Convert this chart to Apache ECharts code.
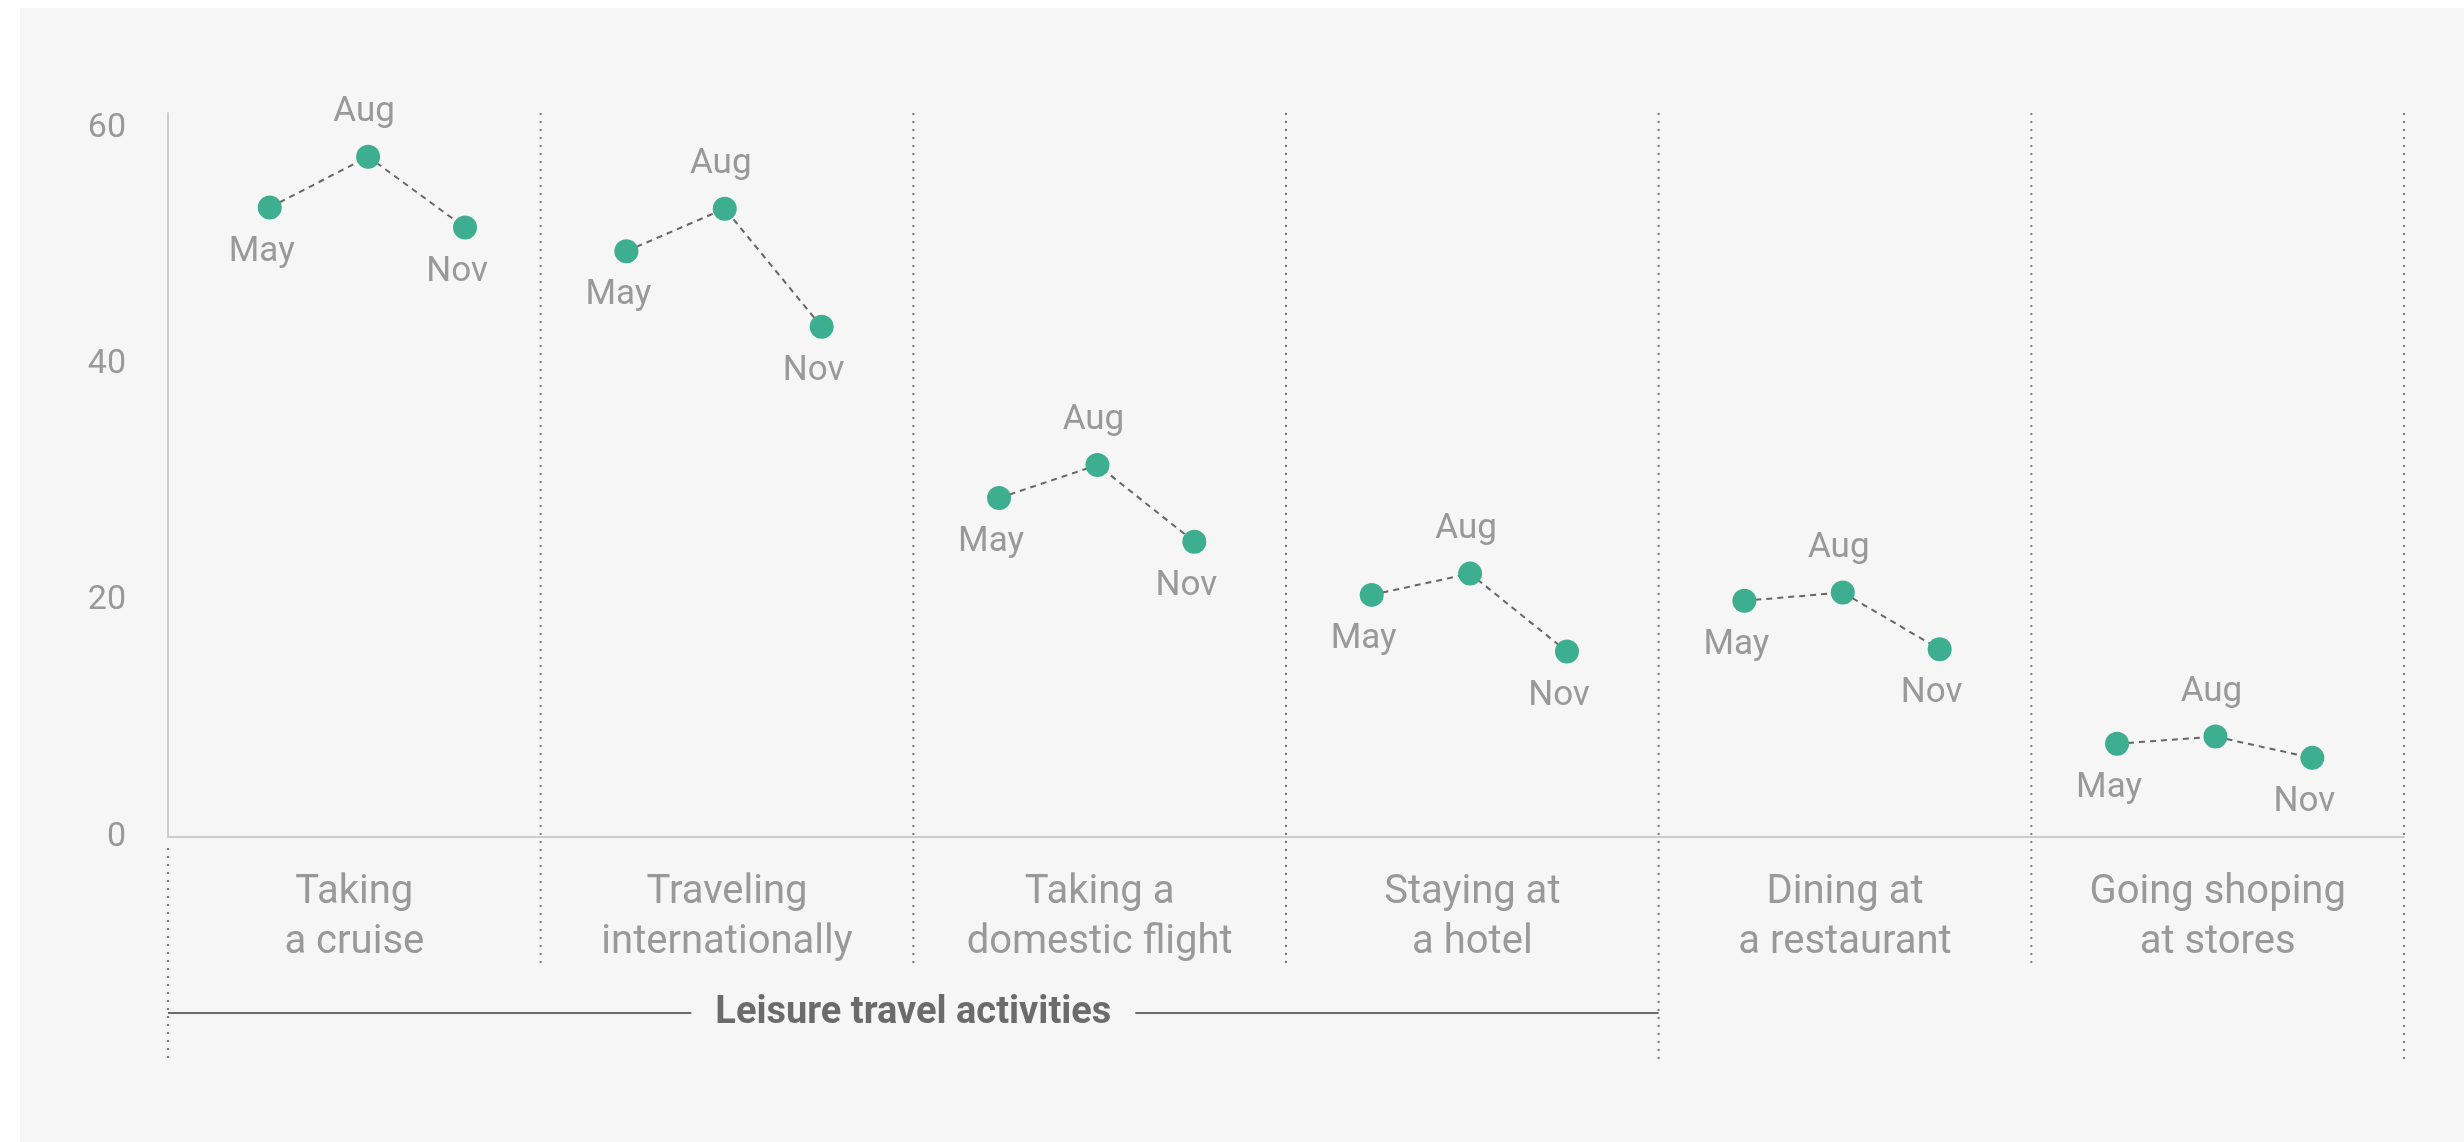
<!DOCTYPE html>
<html>
<head>
<meta charset="utf-8">
<script src="https://cdn.jsdelivr.net/npm/echarts@6/dist/echarts.min.js"></script>
<style>
html, body { margin: 0; padding: 0; background: #fff; }
#chart { position: absolute; left: 20px; top: 8px; width: 2444px; height: 1134px; background: #f6f6f6; }
</style>
</head>
<body>
<div id="chart"></div>
<script>
// activities (x categories) and survey months
var activities = ['Taking\na cruise', 'Traveling\ninternationally', 'Taking a\ndomestic flight',
    'Staying at\na hotel', 'Dining at\na restaurant', 'Going shoping\nat stores'];
var months = ['May', 'Aug', 'Nov'];

// values per month, one per activity
var may = [53.3, 49.6, 28.7, 20.5, 20.0, 7.9];
var aug = [57.6, 53.2, 31.5, 22.3, 20.7, 8.5];
var nov = [51.6, 43.2, 25.0, 15.7, 15.9, 6.7];

var bracketLabel = 'Leisure travel activities';
var bracketSpan = [0, 4];          // groups covered by the bracket

// layout
var FONT = 'Roboto, "Noto Sans", sans-serif';
var GRAY = '#999999';
var yMax = 61.3;
var monthOffset = [0.23, 0.494, 0.754];
var groupNudge = [0.043, 0, 0, 0, 0, 0];
var longSeparators = [0, 4, 6];

var chart = echarts.init(document.getElementById('chart'));

var buildPoints = function (i) {
    return [may, aug, nov].map(function (vals, j) {
        var up = j === 1;
        return {
            value: [i + monthOffset[j] + groupNudge[i], vals[i]],
            label: {
                formatter: months[j],
                position: up ? 'top' : 'bottom',
                offset: up ? [-4, 0] : [-8, 0]
            }
        };
    });
};

var series = activities.map(function (name, i) {
    return {
        type: 'line',
        xAxisIndex: 1,
        yAxisIndex: 0,
        data: buildPoints(i),
        symbol: 'circle',
        symbolSize: 24,
        itemStyle: { color: '#3dae8f' },
        lineStyle: { color: '#666666', width: 2, type: [6, 5] },
        label: { show: true, color: GRAY, fontSize: 35, fontFamily: FONT, distance: 15 },
        z: 3,
        silent: true
    };
});

// dotted separators between activity groups
series.push({
    type: 'custom',
    xAxisIndex: 1,
    yAxisIndex: 0,
    clip: false,
    silent: true,
    z: 1,
    data: [0, 1, 2, 3, 4, 5, 6].map(function (b) { return [b, 0]; }),
    renderItem: function (params, api) {
        var b = api.value(0);
        var top = api.coord([b, yMax]);
        var base = api.coord([b, 0]);
        var isLong = longSeparators.indexOf(b) >= 0;
        return {
            type: 'line',
            shape: {
                x1: base[0], y1: b === 0 ? base[1] + 11 : top[1],
                x2: base[0], y2: base[1] + (isLong ? 222 : 128)
            },
            style: { stroke: '#7a7a7a', lineWidth: 2, lineDash: [2, 6] }
        };
    }
});

// bracket under the leisure travel groups
series.push({
    type: 'custom',
    xAxisIndex: 1,
    yAxisIndex: 0,
    clip: false,
    silent: true,
    z: 2,
    data: [[bracketSpan[0], 0]],
    renderItem: function (params, api) {
        var a = api.coord([bracketSpan[0], 0]);
        var b = api.coord([bracketSpan[1], 0]);
        var y = a[1] + 176;
        return {
            type: 'group',
            children: [{
                type: 'line',
                shape: { x1: a[0], y1: y, x2: b[0], y2: y },
                style: { stroke: '#6b6b6b', lineWidth: 2 }
            }, {
                type: 'text',
                x: (a[0] + b[0]) / 2,
                y: y,
                style: {
                    text: bracketLabel,
                    fill: '#6b6b6b',
                    font: 'bold 38px ' + FONT,
                    align: 'center', verticalAlign: 'middle',
                    textAlign: 'center', textVerticalAlign: 'middle',
                    backgroundColor: '#f6f6f6',
                    padding: [0, 24]
                }
            }]
        };
    }
});

chart.setOption({
    animation: false,
    grid: { left: 148, right: 60, top: 105, bottom: 305 },
    xAxis: [{
        type: 'category',
        data: activities,
        boundaryGap: true,
        axisLine: { show: true, lineStyle: { color: '#cccccc', width: 2 } },
        axisTick: { show: false },
        splitLine: { show: false },
        axisLabel: {
            interval: 0, color: GRAY, fontSize: 40, lineHeight: 50,
            fontFamily: FONT, margin: 31
        }
    }, {
        type: 'value',
        min: 0,
        max: activities.length,
        show: false
    }],
    yAxis: {
        type: 'value',
        min: 0,
        max: yMax,
        interval: 20,
        axisLine: { show: true, lineStyle: { color: '#cccccc', width: 2 } },
        axisTick: { show: false },
        splitLine: { show: false },
        axisLabel: { color: GRAY, fontSize: 34, fontFamily: FONT, margin: 42, showMaxLabel: false }
    },
    series: series
});
</script>
</body>
</html>
